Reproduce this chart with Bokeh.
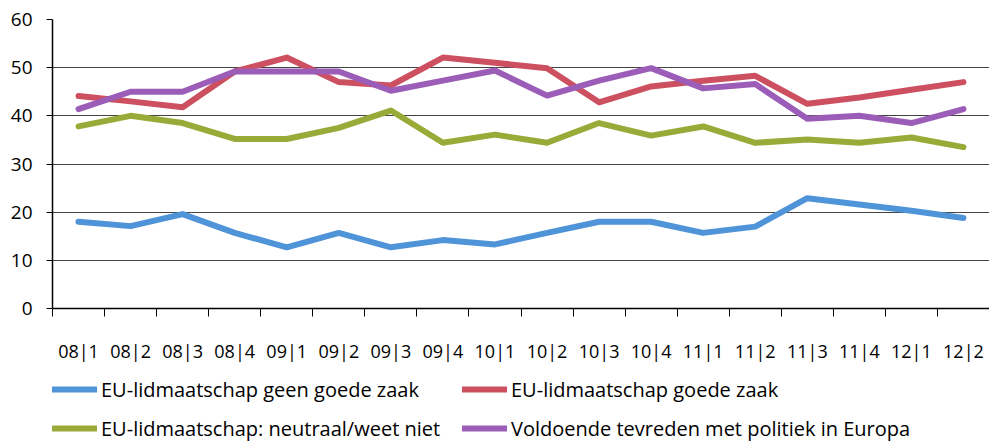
from bokeh.plotting import figure
from bokeh.models import FixedTicker, Range1d, Legend, LegendItem
from bokeh.layouts import column
from bokeh.embed import file_html
from bokeh.resources import INLINE

categories = ["08|1", "08|2", "08|3", "08|4", "09|1", "09|2", "09|3", "09|4",
              "10|1", "10|2", "10|3", "10|4", "11|1", "11|2", "11|3", "11|4",
              "12|1", "12|2"]
geen_goede_zaak = [18.0, 17.1, 19.6, 15.7, 12.7, 15.7, 12.7, 14.2, 13.3,
                   15.7, 18.0, 18.0, 15.7, 17.0, 22.9, 21.6, 20.3, 18.8]
goede_zaak = [44.1, 43.0, 41.8, 49.2, 52.1, 47.0, 46.3, 52.1, 51.0,
              49.9, 42.8, 46.1, 47.3, 48.3, 42.5, 43.8, 45.4, 47.0]
neutraal = [37.8, 40.0, 38.5, 35.2, 35.2, 37.5, 41.1, 34.4, 36.1,
            34.4, 38.5, 35.9, 37.8, 34.4, 35.1, 34.4, 35.5, 33.5]
tevreden = [41.4, 45.0, 45.0, 49.2, 49.2, 49.2, 45.2, 47.3, 49.4,
            44.2, 47.3, 49.9, 45.7, 46.6, 39.4, 40.0, 38.5, 41.4]
y_ticks = [0, 10, 20, 30, 40, 50, 60]

series = [
    ("EU-lidmaatschap geen goede zaak", geen_goede_zaak, "#4f93d8"),
    ("EU-lidmaatschap goede zaak", goede_zaak, "#cd5060"),
    ("EU-lidmaatschap: neutraal/weet niet", neutraal, "#9aaa38"),
    ("Voldoende tevreden met politiek in Europa", tevreden, "#9b5db8"),
]

FONT = "Open Sans"
n = len(categories)
xs = [i + 0.5 for i in range(n)]

p = figure(width=989, height=370, output_backend="svg", toolbar_location=None,
           x_range=Range1d(0, n), y_range=Range1d(0, 60),
           min_border_left=52, min_border_right=0, min_border_top=19,
           min_border_bottom=62)
p.outline_line_color = None
p.background_fill_color = "white"
p.border_fill_color = "white"

for name, vals, col in series:
    p.line(xs, vals, line_color=col, line_width=6, line_join="round", line_cap="round")

# x axis
p.xaxis.ticker = FixedTicker(ticks=xs, minor_ticks=list(range(n + 1)))
p.xaxis.major_label_overrides = {x: c for x, c in zip(xs, categories)}
p.xaxis.major_tick_out = 0
p.xaxis.major_tick_in = 0
p.xaxis.minor_tick_out = 8
p.xaxis.minor_tick_in = 0
p.xaxis.minor_tick_line_color = "black"
p.xaxis.axis_line_color = "black"
p.xaxis.axis_line_width = 1.5
p.xaxis.major_label_text_font = FONT
p.xaxis.major_label_text_font_size = "18px"
p.xaxis.major_label_text_color = "black"
p.xaxis.major_label_standoff = 22

# y axis
p.yaxis.ticker = FixedTicker(ticks=y_ticks, minor_ticks=[])
p.yaxis.major_tick_out = 6
p.yaxis.major_tick_in = 0
p.yaxis.major_tick_line_color = "black"
p.yaxis.axis_line_color = "black"
p.yaxis.axis_line_width = 1.5
p.yaxis.major_label_text_font = FONT
p.yaxis.major_label_text_font_size = "19px"
p.yaxis.major_label_text_color = "black"
p.yaxis.major_label_standoff = 14

p.xgrid.grid_line_color = None
p.ygrid.ticker = FixedTicker(ticks=y_ticks)
p.ygrid.grid_line_color = "#444444"
p.ygrid.grid_line_width = 1

# legend strip below the chart; its lines lie outside this strip's range,
# so only the legend samples are visible
lg = figure(width=989, height=72, output_backend="svg", toolbar_location=None,
            x_range=Range1d(0, n), y_range=Range1d(-1, 0),
            x_axis_location=None, y_axis_location=None,
            min_border_left=0, min_border_right=0, min_border_top=0,
            min_border_bottom=0)
lg.outline_line_color = None
lg.grid.grid_line_color = None
lg.border_fill_color = "white"
lg.background_fill_color = "white"

samples = {}
for name, vals, col in series:
    samples[name] = lg.line(xs, vals, line_color=col, line_width=6, line_cap="round")

order = [series[0][0], series[2][0], series[1][0], series[3][0]]
items = [LegendItem(label=name, renderers=[samples[name]]) for name in order]
legend = Legend(items=items, ncols=2, location=(0, -1),
                padding=0, margin=0, spacing=9,
                glyph_width=45, glyph_height=30, label_height=30,
                label_width=352, label_standoff=4,
                label_text_font=FONT, label_text_font_size="20px",
                label_text_color="black",
                border_line_color=None, background_fill_alpha=0)
lg.add_layout(legend, "center")

open("out.html", "w").write(file_html(column(p, lg, spacing=0), INLINE))
